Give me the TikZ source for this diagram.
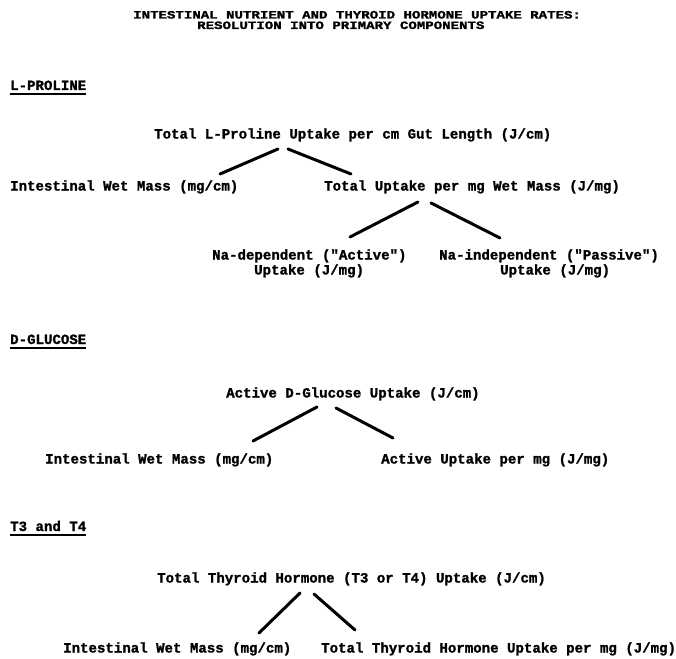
\documentclass[tikz,border=0pt]{standalone}
\usepackage{fontspec}
\setmonofont{Liberation Mono}[BoldFeatures={FakeBold=1.3}]
\begin{document}
\begin{tikzpicture}[x=1pt,y=-1pt,
  txt/.style={anchor=base west,inner sep=0pt,font=\ttfamily\bfseries\fontsize{14.08}{15}\selectfont},
  ttl/.style={anchor=base west,inner sep=0pt,font=\ttfamily\bfseries\fontsize{14.08}{12}\selectfont},
  conn/.style={line width=3pt,line cap=round},
  uline/.style={line width=2pt}]
\useasboundingbox[fill=white] (0,0) rectangle (676,658);
% title
\node[ttl] (t1) at (133,18.5) {\scalebox{1}[0.8]{INTESTINAL NUTRIENT AND THYROID HORMONE UPTAKE RATES:}};
\node[ttl] (t2) at (197,29) {\scalebox{1}[0.8]{RESOLUTION INTO PRIMARY COMPONENTS}};
% headers
\node[txt] (h1) at (10,90) {L-PROLINE};
\node[txt] (h2) at (10,344) {D-GLUCOSE};
\node[txt] (h3) at (10,531) {T3 and T4};
\draw[uline] ([yshift=-4pt]h1.base west) -- ([yshift=-4pt]h1.base east);
\draw[uline] ([yshift=-4pt]h2.base west) -- ([yshift=-4pt]h2.base east);
\draw[uline] ([yshift=-4pt]h3.base west) -- ([yshift=-4pt]h3.base east);
% L-proline tree
\node[txt] (p0) at (154,138.5) {Total L-Proline Uptake per cm Gut Length (J/cm)};
\node[txt] (p1) at (10,190.5) {Intestinal Wet Mass (mg/cm)};
\node[txt] (p2) at (324,190.5) {Total Uptake per mg Wet Mass (J/mg)};
\node[txt] (p3) at (212,259.5) {Na-dependent ("Active")};
\node[txt] (p3b) at (254,274.5) {Uptake (J/mg)};
\node[txt] (p4) at (439,259.5) {Na-independent ("Passive")};
\node[txt] (p4b) at (500,274.5) {Uptake (J/mg)};
\coordinate (p0l) at (278,149);
\coordinate (p0r) at (288,149);
\coordinate (p1t) at (220,174);
\coordinate (p2t) at (351,174);
\coordinate (p2l) at (418,202);
\coordinate (p2r) at (431,203);
\coordinate (p3t) at (350,237);
\coordinate (p4t) at (500,238);
\draw[conn] (p0l) -- (p1t);
\draw[conn] (p0r) -- (p2t);
\draw[conn] (p2l) -- (p3t);
\draw[conn] (p2r) -- (p4t);
% D-glucose tree
\node[txt] (g0) at (226,397.5) {Active D-Glucose Uptake (J/cm)};
\node[txt] (g1) at (45,463.5) {Intestinal Wet Mass (mg/cm)};
\node[txt] (g2) at (381,463.5) {Active Uptake per mg (J/mg)};
\coordinate (g0l) at (317,407);
\coordinate (g0r) at (336,408);
\coordinate (g1t) at (253,441);
\coordinate (g2t) at (393,438);
\draw[conn] (g0l) -- (g1t);
\draw[conn] (g0r) -- (g2t);
% T3/T4 tree
\node[txt] (h0) at (157,582.5) {Total Thyroid Hormone (T3 or T4) Uptake (J/cm)};
\node[txt] (hh1) at (63,652.5) {Intestinal Wet Mass (mg/cm)};
\node[txt] (hh2) at (321,652.5) {Total Thyroid Hormone Uptake per mg (J/mg)};
\coordinate (h0l) at (300,593);
\coordinate (h0r) at (314,594);
\coordinate (hh1t) at (259,633);
\coordinate (hh2t) at (355,630);
\draw[conn] (h0l) -- (hh1t);
\draw[conn] (h0r) -- (hh2t);
\end{tikzpicture}
\end{document}
